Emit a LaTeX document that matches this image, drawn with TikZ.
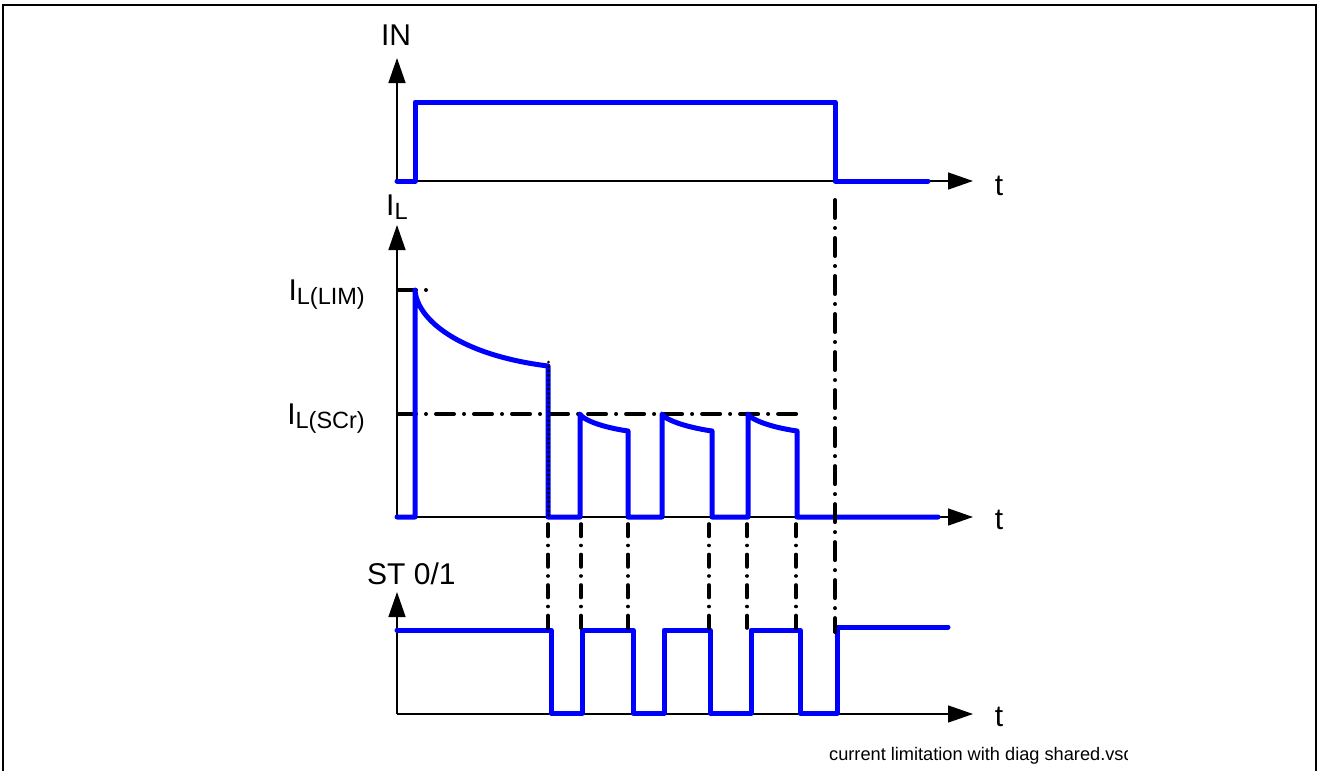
\documentclass[tikz,border=0pt]{standalone}
\usepackage{fontspec}
\setmainfont{Liberation Sans}
\usetikzlibrary{arrows.meta}
\newcommand\lsub[1]{\raisebox{-4pt}{\fontsize{23.5}{23.5}\selectfont #1}}
\begin{document}
\begin{tikzpicture}[x=1pt,y=-1pt,
  ax/.style={line width=1.5pt, -{Triangle[length=25pt,width=17pt]}},
  wave/.style={blue, line width=5pt, line cap=round, line join=round},
  dds/.style={line width=3.6pt, line cap=round, dash pattern=on 12.5pt off 9pt on 0.01pt off 9pt},
  ddl/.style={line width=4pt, line cap=round, dash pattern=on 18pt off 10pt on 0.01pt off 10pt},
  dotov/.style={line width=3pt, line cap=round, dash pattern=on 0.01pt off 4.5pt},
  lbl/.style={inner sep=0pt, font=\fontsize{30}{30}\selectfont},
  foot/.style={inner sep=0pt, font=\fontsize{18.2}{18.2}\selectfont},
]
\useasboundingbox (0,0) rectangle (1328,771);
\fill[white] (0,0) rectangle (1328,771);
\draw[line width=2pt] (3,771) -- (3,5) -- (1316,5) -- (1316,771);

% axes
\coordinate (o1) at (397,181);
\coordinate (o2) at (397,517);
\coordinate (o3) at (397,714);
\draw[ax] (o1) -- (397,58);
\draw[ax] (o1) -- (973,181);
\draw[ax] (o2) -- (397,225);
\draw[ax] (o2) -- (973,517);
\draw[ax] (o3) -- (397,592);
\draw[ax] (o3) -- (973,714);

% horizontal dash-dot levels
\draw[ddl] (398,290) -- (426,290);
\draw[ddl] (398,414) -- (797,414);

% IN waveform
\draw[wave] (397,181) -- (415,181) -- (415,102) -- (835,102) -- (835,181) -- (928,181);

% I_L waveform
\draw[wave] (397,517) -- (415,517) -- (415,290)
  .. controls (417,320) and (460,355) .. (548,366) -- (548,517) -- (580,517)
  -- (580,414) .. controls (582,419) and (600,427) .. (628,431) -- (628,517) -- (662,517)
  -- (662,414) .. controls (664,419) and (684,427) .. (712,431) -- (712,517) -- (748,517)
  -- (748,414) .. controls (750,419) and (769,427) .. (797,431) -- (797,517) -- (938,517);

% ST waveform
\draw[wave] (397,630) -- (551,630) -- (551,713) -- (582,713) -- (582,630) -- (633,630)
  -- (633,713) -- (664,713) -- (664,630) -- (710,630) -- (710,713) -- (751,713)
  -- (751,630) -- (800,630) -- (800,713) -- (837,713) -- (837,627) -- (948,627);

% dotted overlay
\draw[dotov] (548,362) -- (548,517);

% vertical dash-dot lines
\draw[ddl] (835,200) -- (835,632);
\foreach \x in {548,581,628,709,747,796}{
  \draw[dds] (\x,628) -- (\x,519);
}

% labels
\node[lbl, anchor=base] (in) at (396,45) {IN};
\node[lbl, anchor=base west] (il) at (386,215) {I\lsub{L}};
\node[lbl, anchor=base east] (ilim) at (365,300) {I\lsub{L(LIM)}};
\node[lbl, anchor=base east] (iscr) at (365,424) {I\lsub{L(SCr)}};
\node[lbl, anchor=base west] (st) at (367,584) {ST 0/1};
\node[lbl, anchor=base] (t1) at (999,195) {t};
\node[lbl, anchor=base] (t2) at (999,529) {t};
\node[lbl, anchor=base] (t3) at (999,726) {t};

\begin{scope}
\clip (0,0) rectangle (1127,771);
\node[foot, anchor=base west] (fn) at (829,760) {current limitation with diag shared.vsd};
\end{scope}
\end{tikzpicture}
\end{document}
